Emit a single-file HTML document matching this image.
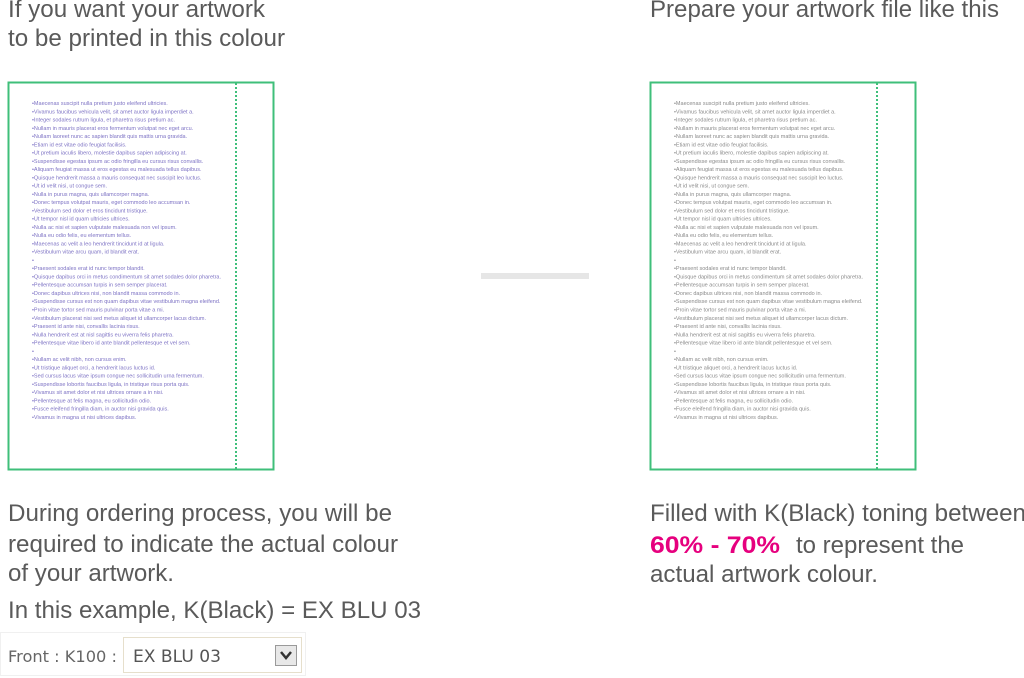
<!DOCTYPE html>
<html><head><meta charset="utf-8"><style>
html,body{margin:0;padding:0;background:#fff;width:1024px;height:678px;overflow:hidden}
svg{display:block}
.h{font-family:"Liberation Sans",Arial,sans-serif;font-size:24px;fill:#5a5a5a}
.s{font-family:"Liberation Sans",Arial,sans-serif;font-size:5.5px}
</style></head><body>
<svg width="1024" height="678" viewBox="0 0 1024 678" xmlns="http://www.w3.org/2000/svg">
<text class="h" x="8" y="17" textLength="257" lengthAdjust="spacingAndGlyphs">If you want your artwork</text>
<text class="h" x="8" y="46" textLength="277" lengthAdjust="spacingAndGlyphs">to be printed in this colour</text>
<text class="h" x="650" y="17" textLength="349" lengthAdjust="spacingAndGlyphs">Prepare your artwork file like this</text>

<rect x="8.5" y="82.5" width="265" height="387" fill="none" stroke="#3fbf7a" stroke-width="2"/>
<line x1="236" y1="83" x2="236" y2="469" stroke="#3fbf7a" stroke-width="2" stroke-dasharray="2,2"/>
<rect x="650.5" y="82.5" width="265" height="387" fill="none" stroke="#3fbf7a" stroke-width="2"/>
<line x1="877" y1="83" x2="877" y2="469" stroke="#3fbf7a" stroke-width="2" stroke-dasharray="2,2"/>

<rect x="481" y="273" width="108" height="6" fill="#e6e6e6"/>

<text class="s" fill="#7d72c4" x="32" y="105">
<tspan x="32" dy="0">•Maecenas suscipit nulla pretium justo eleifend ultricies.</tspan>
<tspan x="32" dy="8.26">•Vivamus faucibus vehicula velit, sit amet auctor ligula imperdiet a.</tspan>
<tspan x="32" dy="8.26">•Integer sodales rutrum ligula, et pharetra risus pretium ac.</tspan>
<tspan x="32" dy="8.26">•Nullam in mauris placerat eros fermentum volutpat nec eget arcu.</tspan>
<tspan x="32" dy="8.26">•Nullam laoreet nunc ac sapien blandit quis mattis urna gravida.</tspan>
<tspan x="32" dy="8.26">•Etiam id est vitae odio feugiat facilisis.</tspan>
<tspan x="32" dy="8.26">•Ut pretium iaculis libero, molestie dapibus sapien adipiscing at.</tspan>
<tspan x="32" dy="8.26">•Suspendisse egestas ipsum ac odio fringilla eu cursus risus convallis.</tspan>
<tspan x="32" dy="8.26">•Aliquam feugiat massa ut eros egestas eu malesuada tellus dapibus.</tspan>
<tspan x="32" dy="8.26">•Quisque hendrerit massa a mauris consequat nec suscipit leo luctus.</tspan>
<tspan x="32" dy="8.26">•Ut id velit nisi, ut congue sem.</tspan>
<tspan x="32" dy="8.26">•Nulla in purus magna, quis ullamcorper magna.</tspan>
<tspan x="32" dy="8.26">•Donec tempus volutpat mauris, eget commodo leo accumsan in.</tspan>
<tspan x="32" dy="8.26">•Vestibulum sed dolor et eros tincidunt tristique.</tspan>
<tspan x="32" dy="8.26">•Ut tempor nisl id quam ultricies ultrices.</tspan>
<tspan x="32" dy="8.26">•Nulla ac nisi et sapien vulputate malesuada non vel ipsum.</tspan>
<tspan x="32" dy="8.26">•Nulla eu odio felis, eu elementum tellus.</tspan>
<tspan x="32" dy="8.26">•Maecenas ac velit a leo hendrerit tincidunt id at ligula.</tspan>
<tspan x="32" dy="8.26">•Vestibulum vitae arcu quam, id blandit erat.</tspan>
<tspan x="32" dy="8.26">•</tspan>
<tspan x="32" dy="8.26">•Praesent sodales erat id nunc tempor blandit.</tspan>
<tspan x="32" dy="8.26">•Quisque dapibus orci in metus condimentum sit amet sodales dolor pharetra.</tspan>
<tspan x="32" dy="8.26">•Pellentesque accumsan turpis in sem semper placerat.</tspan>
<tspan x="32" dy="8.26">•Donec dapibus ultrices nisi, non blandit massa commodo in.</tspan>
<tspan x="32" dy="8.26">•Suspendisse cursus est non quam dapibus vitae vestibulum magna eleifend.</tspan>
<tspan x="32" dy="8.26">•Proin vitae tortor sed mauris pulvinar porta vitae a mi.</tspan>
<tspan x="32" dy="8.26">•Vestibulum placerat nisi sed metus aliquet id ullamcorper lacus dictum.</tspan>
<tspan x="32" dy="8.26">•Praesent id ante nisi, convallis lacinia risus.</tspan>
<tspan x="32" dy="8.26">•Nulla hendrerit est at nisl sagittis eu viverra felis pharetra.</tspan>
<tspan x="32" dy="8.26">•Pellentesque vitae libero id ante blandit pellentesque et vel sem.</tspan>
<tspan x="32" dy="8.26">•</tspan>
<tspan x="32" dy="8.26">•Nullam ac velit nibh, non cursus enim.</tspan>
<tspan x="32" dy="8.26">•Ut tristique aliquet orci, a hendrerit lacus luctus id.</tspan>
<tspan x="32" dy="8.26">•Sed cursus lacus vitae ipsum congue nec sollicitudin urna fermentum.</tspan>
<tspan x="32" dy="8.26">•Suspendisse lobortis faucibus ligula, in tristique risus porta quis.</tspan>
<tspan x="32" dy="8.26">•Vivamus sit amet dolor et nisi ultrices ornare a in nisi.</tspan>
<tspan x="32" dy="8.26">•Pellentesque at felis magna, eu sollicitudin odio.</tspan>
<tspan x="32" dy="8.26">•Fusce eleifend fringilla diam, in auctor nisi gravida quis.</tspan>
<tspan x="32" dy="8.26">•Vivamus in magna ut nisi ultrices dapibus.</tspan>
</text>

<text class="s" fill="#8a8a8a" x="674" y="105">
<tspan x="674" dy="0">•Maecenas suscipit nulla pretium justo eleifend ultricies.</tspan>
<tspan x="674" dy="8.26">•Vivamus faucibus vehicula velit, sit amet auctor ligula imperdiet a.</tspan>
<tspan x="674" dy="8.26">•Integer sodales rutrum ligula, et pharetra risus pretium ac.</tspan>
<tspan x="674" dy="8.26">•Nullam in mauris placerat eros fermentum volutpat nec eget arcu.</tspan>
<tspan x="674" dy="8.26">•Nullam laoreet nunc ac sapien blandit quis mattis urna gravida.</tspan>
<tspan x="674" dy="8.26">•Etiam id est vitae odio feugiat facilisis.</tspan>
<tspan x="674" dy="8.26">•Ut pretium iaculis libero, molestie dapibus sapien adipiscing at.</tspan>
<tspan x="674" dy="8.26">•Suspendisse egestas ipsum ac odio fringilla eu cursus risus convallis.</tspan>
<tspan x="674" dy="8.26">•Aliquam feugiat massa ut eros egestas eu malesuada tellus dapibus.</tspan>
<tspan x="674" dy="8.26">•Quisque hendrerit massa a mauris consequat nec suscipit leo luctus.</tspan>
<tspan x="674" dy="8.26">•Ut id velit nisi, ut congue sem.</tspan>
<tspan x="674" dy="8.26">•Nulla in purus magna, quis ullamcorper magna.</tspan>
<tspan x="674" dy="8.26">•Donec tempus volutpat mauris, eget commodo leo accumsan in.</tspan>
<tspan x="674" dy="8.26">•Vestibulum sed dolor et eros tincidunt tristique.</tspan>
<tspan x="674" dy="8.26">•Ut tempor nisl id quam ultricies ultrices.</tspan>
<tspan x="674" dy="8.26">•Nulla ac nisi et sapien vulputate malesuada non vel ipsum.</tspan>
<tspan x="674" dy="8.26">•Nulla eu odio felis, eu elementum tellus.</tspan>
<tspan x="674" dy="8.26">•Maecenas ac velit a leo hendrerit tincidunt id at ligula.</tspan>
<tspan x="674" dy="8.26">•Vestibulum vitae arcu quam, id blandit erat.</tspan>
<tspan x="674" dy="8.26">•</tspan>
<tspan x="674" dy="8.26">•Praesent sodales erat id nunc tempor blandit.</tspan>
<tspan x="674" dy="8.26">•Quisque dapibus orci in metus condimentum sit amet sodales dolor pharetra.</tspan>
<tspan x="674" dy="8.26">•Pellentesque accumsan turpis in sem semper placerat.</tspan>
<tspan x="674" dy="8.26">•Donec dapibus ultrices nisi, non blandit massa commodo in.</tspan>
<tspan x="674" dy="8.26">•Suspendisse cursus est non quam dapibus vitae vestibulum magna eleifend.</tspan>
<tspan x="674" dy="8.26">•Proin vitae tortor sed mauris pulvinar porta vitae a mi.</tspan>
<tspan x="674" dy="8.26">•Vestibulum placerat nisi sed metus aliquet id ullamcorper lacus dictum.</tspan>
<tspan x="674" dy="8.26">•Praesent id ante nisi, convallis lacinia risus.</tspan>
<tspan x="674" dy="8.26">•Nulla hendrerit est at nisl sagittis eu viverra felis pharetra.</tspan>
<tspan x="674" dy="8.26">•Pellentesque vitae libero id ante blandit pellentesque et vel sem.</tspan>
<tspan x="674" dy="8.26">•</tspan>
<tspan x="674" dy="8.26">•Nullam ac velit nibh, non cursus enim.</tspan>
<tspan x="674" dy="8.26">•Ut tristique aliquet orci, a hendrerit lacus luctus id.</tspan>
<tspan x="674" dy="8.26">•Sed cursus lacus vitae ipsum congue nec sollicitudin urna fermentum.</tspan>
<tspan x="674" dy="8.26">•Suspendisse lobortis faucibus ligula, in tristique risus porta quis.</tspan>
<tspan x="674" dy="8.26">•Vivamus sit amet dolor et nisi ultrices ornare a in nisi.</tspan>
<tspan x="674" dy="8.26">•Pellentesque at felis magna, eu sollicitudin odio.</tspan>
<tspan x="674" dy="8.26">•Fusce eleifend fringilla diam, in auctor nisi gravida quis.</tspan>
<tspan x="674" dy="8.26">•Vivamus in magna ut nisi ultrices dapibus.</tspan>
</text>

<text class="h" x="8" y="521" textLength="384" lengthAdjust="spacingAndGlyphs">During ordering process, you will be</text>
<text class="h" x="8" y="552" textLength="390" lengthAdjust="spacingAndGlyphs">required to indicate the actual colour</text>
<text class="h" x="8" y="581" textLength="166" lengthAdjust="spacingAndGlyphs">of your artwork.</text>
<text class="h" x="8" y="618" textLength="413" lengthAdjust="spacingAndGlyphs">In this example, K(Black) = EX BLU 03</text>

<text class="h" x="650" y="521" textLength="376" lengthAdjust="spacingAndGlyphs">Filled with K(Black) toning between</text>
<text class="h" x="650" y="553" fill="#e6007e" font-weight="bold" textLength="130" lengthAdjust="spacingAndGlyphs" style="fill:#e6007e">60% - 70%</text>
<text class="h" x="796" y="553" textLength="168" lengthAdjust="spacingAndGlyphs">to represent the</text>
<text class="h" x="650" y="582" textLength="228" lengthAdjust="spacingAndGlyphs">actual artwork colour.</text>

<rect x="0.5" y="632.5" width="305" height="43" fill="#fff" stroke="#f0f0f0"/>
<text x="8" y="662" font-family="'DejaVu Sans',sans-serif" font-size="16" fill="#666" textLength="109" lengthAdjust="spacingAndGlyphs">Front : K100 :</text>
<rect x="123.5" y="637.5" width="178" height="35" fill="#fff" stroke="#e6dfcc"/>
<text x="133" y="662" font-family="'DejaVu Sans',sans-serif" font-size="17" fill="#555" textLength="88" lengthAdjust="spacingAndGlyphs">EX BLU 03</text>
<rect x="275.5" y="645.5" width="21" height="20" fill="#e8e8e8" stroke="#9a9a9a"/>
<path d="M281 652 L286 658 L291 652" fill="none" stroke="#333" stroke-width="2.5"/>
</svg>
</body></html>
